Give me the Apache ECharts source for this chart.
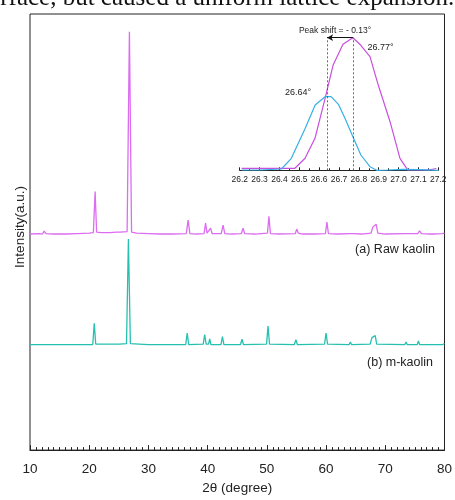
<!DOCTYPE html>
<html>
<head>
<meta charset="utf-8">
<script src="https://cdn.jsdelivr.net/npm/echarts@6/dist/echarts.min.js"></script>
<style>
  html, body { margin: 0; padding: 0; background: #fff; }
  #chart { width: 455px; height: 500px; }
</style>
</head>
<body>
<div id="chart"></div>
<script>
// 主图数据 [2θ, 强度]（任意单位，含偏移）
var rawKaolin = [
  [10,219],[11.5,219.5],[12.1,219],[12.4,222],[12.7,219.5],[14,219],[16,219],[18,219.5],
  [20,220],[20.7,220.5],[21.0,262],[21.25,221],[22,220.5],[23.5,220.5],[24.6,221],[24.9,223],
  [25.2,221],[26.4,221.5],[26.79,424],[27.15,221],[28,220],[30,219.5],[32,219],[34,219],
  [36.4,219.5],[36.7,233],[37.0,219.5],[38,219],[39.4,219.5],[39.65,230],[39.9,220],[40.2,220],
  [40.5,225],[40.75,219.5],[42.3,219.5],[42.6,228],[42.9,219.5],[44,219],[45.7,219.5],[45.98,225],
  [46.25,219.5],[48,219],[50.1,220],[50.35,237],[50.6,219.5],[52,219],[54.8,219.5],[55.05,224],
  [55.3,220],[56,219],[58,219],[59.9,219.5],[60.14,231],[60.4,219.5],[62,219],[64.0,219.5],
  [64.3,221],[64.6,219.5],[66,219],[67.6,220],[67.9,226],[68.15,224],[68.45,229],[68.75,220],
  [70,219],[73.4,219.5],[73.7,221.3],[74,219.5],[75.5,219.5],[75.8,222.3],[76.1,219.5],
  [77.6,219],[77.8,220.5],[78.1,219],[79.6,219.5],[79.9,221.5],[80,220]
];
var mKaolin = [
  [10,107],[12.2,107],[12.4,108.5],[12.6,107],[16,107],[20.6,107],[20.85,128.6],[21.1,107.5],
  [24.7,107.5],[24.9,108.5],[25.1,107.5],[26.3,108],[26.62,214],[26.95,108],[30,107],[36.3,107],
  [36.55,118.6],[36.8,107],[39.25,107.5],[39.5,117],[39.75,107.5],[40.15,107.5],[40.35,112.6],
  [40.55,107],[42.25,107],[42.5,115],[42.75,107],[45.55,107],[45.8,112.3],[46.05,107],
  [49.95,107.5],[50.2,125.7],[50.45,107.5],[54.65,107],[54.9,112],[55.15,107],[59.75,107.5],
  [60.0,118.7],[60.25,107.5],[63.9,107],[64.1,109.5],[64.3,107],[67.45,107.5],[67.75,114],
  [68.0,112],[68.3,116],[68.55,107.5],[73.3,107],[73.5,109.5],[73.7,107],[75.4,107],[75.6,110.5],
  [75.8,107],[77.5,107],[77.7,109],[77.9,107],[79.7,107],[79.9,108.5],[80,108]
];

// 插图数据（26.2° ~ 27.2° 主峰放大）
var rawPeak = [
  [26.21,2],[26.30,2],[26.40,2],[26.478,2],[26.529,12],[26.579,32],[26.63,72],[26.67,105],
  [26.72,126],[26.77,132.6],[26.81,125],[26.856,113.6],[26.898,85],[26.957,48.6],[27.007,12],
  [27.046,0.5],[27.10,0.3],[27.15,0.3],[27.19,1.8]
];
var mPeak = [
  [26.21,0.3],[26.30,0.3],[26.41,1.3],[26.46,12],[26.53,42],[26.58,65.3],[26.63,73.6],
  [26.66,73.6],[26.697,66],[26.73,52],[26.77,33.6],[26.81,15.3],[26.856,3.6],[26.89,0],
  [26.95,0.3],[27.02,1],[27.1,0.6],[27.2,0]
];
var peakRaw = 26.77, peakM = 26.64, peakTop = 132.6;

var font = 'Liberation Sans, Arial, sans-serif';
var myChart = echarts.init(document.getElementById('chart'));

var option = {
  animation: false,
  backgroundColor: '#fff',
  grid: [
    { left: 30, right: 8, top: 14, bottom: 44, show: true, borderColor: '#222', borderWidth: 1 },
    { left: 239.7, width: 198.6, top: 30, bottom: 329.7 }
  ],
  xAxis: [
    {
      gridIndex: 0, type: 'value', min: 10, max: 80, interval: 10,
      name: '2θ (degree)', nameLocation: 'middle', nameGap: 30,
      nameTextStyle: { fontFamily: font, fontSize: 13.5, color: '#222' },
      axisLine: { lineStyle: { color: '#222', width: 1 } },
      axisTick: { inside: true, length: 5, lineStyle: { color: '#222' } },
      minorTick: { show: true, splitNumber: 10, length: 3, lineStyle: { color: '#222' } },
      axisLabel: { fontFamily: font, fontSize: 13.5, color: '#222', margin: 12 },
      splitLine: { show: false }
    },
    {
      gridIndex: 1, type: 'value', min: 26.2, max: 27.2, interval: 0.1,
      axisLine: { lineStyle: { color: '#222', width: 1 } },
      axisTick: { inside: true, length: 3, lineStyle: { color: '#222' } },
      minorTick: { show: true, splitNumber: 2, length: 2, lineStyle: { color: '#222' } },
      axisLabel: { fontFamily: font, fontSize: 8.5, color: '#222', margin: 5,
        formatter: function (v) { return v.toFixed(1); } },
      splitLine: { show: false }
    }
  ],
  yAxis: [
    { gridIndex: 0, type: 'value', min: 0, max: 442, show: false },
    { gridIndex: 1, type: 'value', min: 0, max: 140.3, show: false }
  ],
  series: [
    {
      name: '(a) Raw kaolin', type: 'line', xAxisIndex: 0, yAxisIndex: 0,
      data: rawKaolin, symbol: 'none', lineStyle: { color: '#dc6cf0', width: 1.3 }
    },
    {
      name: '(b) m-kaolin', type: 'line', xAxisIndex: 0, yAxisIndex: 0,
      data: mKaolin, symbol: 'none', lineStyle: { color: '#26c0b0', width: 1.3 }
    },
    {
      name: 'raw inset', type: 'line', xAxisIndex: 1, yAxisIndex: 1,
      data: rawPeak, symbol: 'none', lineStyle: { color: '#c94fdf', width: 1.2 },
      markLine: {
        silent: true, symbol: 'none',
        label: { show: false },
        lineStyle: { color: '#444', type: [2, 2], width: 0.8 },
        data: [
          [{ coord: [peakM, 0] }, { coord: [peakM, peakTop] }],
          [{ coord: [peakRaw, 0] }, { coord: [peakRaw, peakTop] }]
        ]
      }
    },
    {
      name: 'm inset', type: 'line', xAxisIndex: 1, yAxisIndex: 1,
      data: mPeak, symbol: 'none', lineStyle: { color: '#35b1e6', width: 1.2 },
      markLine: {
        silent: true, symbol: ['none', 'arrow'], symbolSize: [5, 6],
        label: { show: false },
        lineStyle: { color: '#111', type: 'solid', width: 1 },
        data: [
          [{ coord: [peakRaw, peakTop] }, { coord: [peakM, peakTop] }]
        ]
      }
    }
  ],
  graphic: [
    { type: 'text', left: -22, top: -14, silent: true,
      style: { text: 'surface, but caused a uniform lattice expansion.',
        font: '25px "Liberation Serif", "Times New Roman", serif', fill: '#111' } },
    { type: 'text', x: 20, y: 227, rotation: Math.PI / 2, silent: true,
      style: { text: 'Intensity(a.u.)', font: '13.5px ' + font, fill: '#222',
        align: 'center', verticalAlign: 'middle' } },
    { type: 'text', x: 435, y: 250, silent: true,
      style: { text: '(a) Raw kaolin', font: '12.5px ' + font, fill: '#222',
        align: 'right', verticalAlign: 'middle' } },
    { type: 'text', x: 433, y: 363, silent: true,
      style: { text: '(b) m-kaolin', font: '12.5px ' + font, fill: '#222',
        align: 'right', verticalAlign: 'middle' } },
    { type: 'text', x: 335, y: 30.5, silent: true,
      style: { text: 'Peak shift = - 0.13°', font: '8.5px ' + font, fill: '#222',
        align: 'center', verticalAlign: 'middle' } },
    { type: 'text', x: 367.5, y: 47.5, silent: true,
      style: { text: '26.77°', font: '9px ' + font, fill: '#222',
        align: 'left', verticalAlign: 'middle' } },
    { type: 'text', x: 311, y: 93, silent: true,
      style: { text: '26.64°', font: '9px ' + font, fill: '#222',
        align: 'right', verticalAlign: 'middle' } }
  ]
};
myChart.setOption(option);
</script>
</body>
</html>
